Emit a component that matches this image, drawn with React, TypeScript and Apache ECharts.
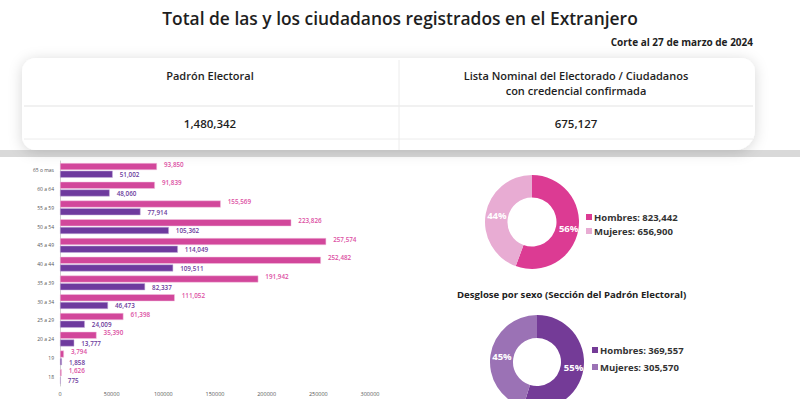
import React, { useEffect, useRef } from "react";
import * as echarts from "echarts";

const ageGroups = ["65 o mas", "60 a 64", "55 a 59", "50 a 54", "45 a 49", "40 a 44", "35 a 39", "30 a 34", "25 a 29", "20 a 24", "19", "18"];
const padronValues = [93850, 91839, 155569, 223826, 257574, 252482, 191942, 111052, 61398, 35390, 3794, 1626];
const listaValues = [51002, 48060, 77914, 105362, 114049, 109511, 82337, 46473, 24009, 13777, 1858, 775];
const xTicks = [0, 50000, 100000, 150000, 200000, 250000, 300000];

const sexLabels = ["Hombres", "Mujeres"];
const padronSex = [823442, 656900];
const listaSex = [369557, 305570];

const totalPadron = "1,480,342";
const totalLista = "675,127";

const FONT = "'Open Sans', 'Noto Sans', sans-serif";
const PINK = "#d2479b";
const PURPLE = "#6e3a9e";

const fmt = (v: number) => v.toLocaleString("en-US");

export default function App() {
  const ref = useRef<HTMLDivElement>(null);
  useEffect(() => {
    document.body.style.margin = "0";
    const chart = echarts.init(ref.current!, null, { renderer: "svg" });
    const pie1Names = sexLabels.map((s, i) => `${s}: ${fmt(padronSex[i])}`);
    const pie2Names = sexLabels.map((s, i) => `${s}: ${fmt(listaSex[i])}`);
    const legendText = { fontSize: 9.5, fontWeight: 700, color: "#333", fontFamily: FONT, padding: [0, 0, 0, -3] };
    const pieLabelOffsets = [[-1.5, 0], [3, 0]];
    chart.setOption({
      animation: false,
      backgroundColor: "#ffffff",
      textStyle: { fontFamily: FONT },
      graphic: [
        { type: "rect", shape: { x: 0, y: 150, width: 800, height: 7 }, style: { fill: "#d9d9d9" }, z: 0 },
        {
          type: "rect",
          shape: { x: 22, y: 58, width: 733, height: 92, r: [14, 14, 20, 14] },
          style: { fill: "#ffffff", shadowBlur: 14, shadowColor: "rgba(0,0,0,0.16)", shadowOffsetY: 2 },
          z: 1,
        },
        { type: "line", shape: { x1: 399, y1: 60, x2: 399, y2: 150 }, style: { stroke: "#ececec", lineWidth: 1 }, z: 2 },
        { type: "line", shape: { x1: 24, y1: 106, x2: 753, y2: 106 }, style: { stroke: "#ececec", lineWidth: 1.5 }, z: 2 },
        { type: "line", shape: { x1: 24, y1: 139, x2: 753, y2: 139 }, style: { stroke: "#ececec", lineWidth: 1 }, z: 2 },
        {
          type: "text", x: 400, y: 18, z: 3,
          style: { text: "Total de las y los ciudadanos registrados en el Extranjero", fontFamily: FONT, fontSize: 17.4, fontWeight: 600, fill: "#1e1e1e", align: "center", verticalAlign: "middle" },
        },
        {
          type: "text", x: 753, y: 42, z: 3,
          style: { text: "Corte al 27 de marzo de 2024", fontFamily: FONT, fontSize: 10, fontWeight: 700, fill: "#1e1e1e", align: "right", verticalAlign: "middle" },
        },
        {
          type: "text", x: 210, y: 75, z: 3,
          style: { text: "Padrón Electoral", fontFamily: FONT, fontSize: 11, fontWeight: 600, fill: "#1e1e1e", align: "center", verticalAlign: "middle" },
        },
        {
          type: "text", x: 576, y: 75, z: 3,
          style: { text: "Lista Nominal del Electorado / Ciudadanos", fontFamily: FONT, fontSize: 11, fontWeight: 600, fill: "#1e1e1e", align: "center", verticalAlign: "middle" },
        },
        {
          type: "text", x: 576, y: 90, z: 3,
          style: { text: "con credencial confirmada", fontFamily: FONT, fontSize: 11, fontWeight: 600, fill: "#1e1e1e", align: "center", verticalAlign: "middle" },
        },
        {
          type: "text", x: 210, y: 123, z: 3,
          style: { text: totalPadron, fontFamily: FONT, fontSize: 11.5, fontWeight: 600, fill: "#1e1e1e", align: "center", verticalAlign: "middle" },
        },
        {
          type: "text", x: 576, y: 123, z: 3,
          style: { text: totalLista, fontFamily: FONT, fontSize: 11.5, fontWeight: 600, fill: "#1e1e1e", align: "center", verticalAlign: "middle" },
        },
        {
          type: "text", x: 457, y: 294, z: 3,
          style: { text: "Desglose por sexo (Sección del Padrón Electoral)", fontFamily: FONT, fontSize: 9.6, fontWeight: 700, fill: "#222", align: "left", verticalAlign: "middle" },
        },
      ],
      grid: { left: 60, right: 430, top: 161, bottom: 13, containLabel: false },
      xAxis: {
        type: "value",
        min: xTicks[0],
        max: xTicks[xTicks.length - 1],
        interval: xTicks[1] - xTicks[0],
        axisLine: { show: false },
        axisTick: { show: false },
        splitLine: { show: false },
        axisLabel: { fontSize: 5.5, color: "#555", margin: 5, fontFamily: FONT, formatter: (v: number) => String(v) },
      },
      yAxis: {
        type: "category",
        data: ageGroups,
        inverse: true,
        axisLine: { show: true, lineStyle: { color: "#cfcfcf", width: 1 } },
        axisTick: { show: false },
        axisLabel: { fontSize: 5, color: "#555", margin: 6, fontFamily: FONT },
      },
      legend: [
        {
          data: pie1Names,
          orient: "vertical",
          left: 581,
          top: 207,
          itemWidth: 6,
          itemHeight: 6,
          itemGap: 4,
          icon: "rect",
          textStyle: legendText,
        },
        {
          data: pie2Names,
          orient: "vertical",
          left: 587,
          top: 340,
          itemWidth: 6,
          itemHeight: 6,
          itemGap: 7,
          icon: "rect",
          textStyle: legendText,
        },
      ],
      series: [
        {
          type: "bar",
          name: "Padrón",
          data: padronValues,
          barWidth: 7,
          barGap: "10%",
          itemStyle: { color: PINK, borderColor: "#f3c6e0", borderWidth: 0.5 },
          label: {
            show: true, position: "right", offset: [2, -2.5], formatter: (p: any) => fmt(p.value),
            fontSize: 6.3, lineHeight: 7, fontWeight: 600, color: "#dc4fa3", fontFamily: FONT,
          },
        },
        {
          type: "bar",
          name: "Lista",
          data: listaValues,
          barWidth: 7,
          itemStyle: { color: PURPLE, borderColor: "#c9b3dd", borderWidth: 0.5 },
          label: {
            show: true, position: "right", offset: [2, 0.5], formatter: (p: any) => fmt(p.value),
            fontSize: 6.3, lineHeight: 7, fontWeight: 600, color: "#6b3a9c", fontFamily: FONT,
          },
        },
        {
          type: "pie",
          center: [532, 222],
          radius: [24.5, 47],
          startAngle: 90,
          clockwise: true,
          data: pie1Names.map((n, i) => ({
            name: n, value: padronSex[i],
            itemStyle: { color: i === 0 ? "#dc3b93" : "#e8acd3" },
            label: { offset: pieLabelOffsets[i] },
          })),
          label: {
            show: true, position: "inside", formatter: (p: any) => Math.round(p.percent) + "%",
            color: "#ffffff", fontSize: 9.5, fontWeight: 700, fontFamily: FONT,
          },
          labelLine: { show: false },
        },
        {
          type: "pie",
          center: [537, 362],
          radius: [24, 47],
          startAngle: 90,
          clockwise: true,
          data: pie2Names.map((n, i) => ({
            name: n, value: listaSex[i],
            itemStyle: { color: i === 0 ? "#743b97" : "#9b72b5" },
            label: { offset: pieLabelOffsets[i] },
          })),
          label: {
            show: true, position: "inside", formatter: (p: any) => Math.round(p.percent) + "%",
            color: "#ffffff", fontSize: 9.5, fontWeight: 700, fontFamily: FONT,
          },
          labelLine: { show: false },
        },
      ],
    });
    return () => chart.dispose();
  }, []);
  return <div ref={ref} style={{ position: "absolute", left: 0, top: 0, width: 800, height: 399 }} />;
}
